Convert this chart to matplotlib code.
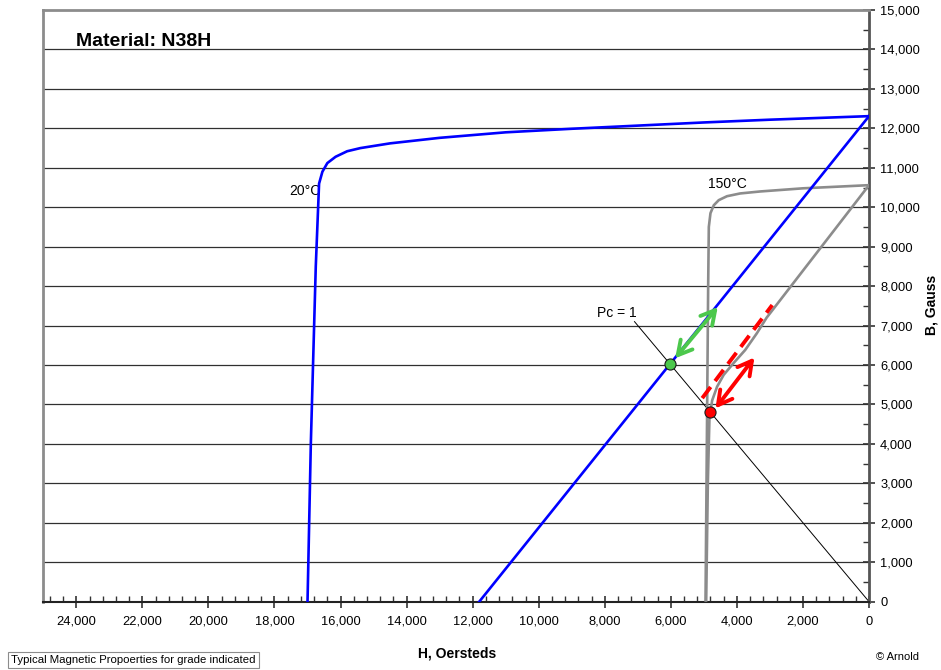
import numpy as np
import matplotlib
matplotlib.use("Agg")
import matplotlib.pyplot as plt
from matplotlib.ticker import MultipleLocator, FuncFormatter

plt.rcParams['font.family'] = ['Liberation Sans', 'DejaVu Sans']

# demagnetization curve, 20 C
h_20 = [17000, 16900, 16750, 16650, 16550, 16400, 16150, 15800, 15400, 14500, 13000,
        11000, 9000, 7000, 5000, 3000, 1000, 0]
b_20 = [0, 4000, 8500, 10600, 10900, 11120, 11280, 11420, 11500, 11620, 11760,
        11900, 11990, 12070, 12150, 12220, 12280, 12310]

# demagnetization curve, 150 C
h_150 = [4950, 4900, 4870, 4850, 4800, 4700, 4550, 4300, 3900, 3300, 2000, 0]
b_150 = [0, 5000, 8000, 9500, 9850, 10050, 10180, 10280, 10350, 10400, 10480, 10560]

# load line at 20 C
h_load20 = [0, 11800]
b_load20 = [12310, 0]

# recoil / load curve at 150 C
h_rec150 = [4930, 4880, 4830, 4800, 4750, 4600, 4400, 4100, 3750, 3400, 3100, 0]
b_rec150 = [0, 3000, 4700, 4810, 5100, 5450, 5750, 6050, 6380, 6800, 7200, 10560]

# red dashed extension
h_dash = [5050, 2930]
b_dash = [5160, 7520]

# Pc = 1 line
h_pc = [0, 7100]
b_pc = [0, 7100]

# operating points
green_pt = (6020, 6030)
red_pt = (4800, 4810)

# arrows (tail, head)
green_arrow = [(5870, 6170), (4580, 7470)]
red_arrow = [(4650, 4900), (3470, 6190)]

fig = plt.figure(figsize=(9.41, 6.70), dpi=100)
ax = fig.add_axes([0.046, 0.102, 0.8775, 0.883])

for yv in range(1000, 15000, 1000):
    ax.axhline(yv, color='#303030', lw=0.9, zorder=1)

ax.plot(h_pc, b_pc, color='black', lw=0.7, zorder=2)
ax.plot(h_150, b_150, color='#8c8c8c', lw=1.9, zorder=3, solid_capstyle='butt')
ax.plot(h_rec150, b_rec150, color='#8c8c8c', lw=1.9, zorder=3, solid_capstyle='butt')
ax.plot(h_20, b_20, color='#0000ff', lw=1.9, zorder=4)
ax.plot(h_load20, b_load20, color='#0000ff', lw=1.9, zorder=4)
ax.plot(h_dash, b_dash, color='#ff0000', lw=2.8, dashes=(3.6, 1.9), zorder=5,
        dash_capstyle='butt')

arrow_style = '<->,head_length=1.0,head_width=0.55'
ax.annotate('', xy=green_arrow[1], xytext=green_arrow[0],
            arrowprops=dict(arrowstyle=arrow_style, color='#4cc84c', lw=2.8,
                            shrinkA=0, shrinkB=0), zorder=6)
ax.annotate('', xy=red_arrow[1], xytext=red_arrow[0],
            arrowprops=dict(arrowstyle=arrow_style, color='#ff0000', lw=2.8,
                            shrinkA=0, shrinkB=0), zorder=6)

ax.plot([green_pt[0]], [green_pt[1]], 'o', ms=8, mfc='#4cc84c', mec='#1a1a1a', mew=0.8, zorder=7)
ax.plot([red_pt[0]], [red_pt[1]], 'o', ms=8, mfc='#ff0000', mec='#1a1a1a', mew=0.8, zorder=7)

ax.text(16600, 10420, '20°C', ha='right', va='center', fontsize=10)
ax.text(4300, 10580, '150°C', ha='center', va='center', fontsize=10)
ax.text(7050, 7330, 'Pc = 1', ha='right', va='center', fontsize=10)
ax.text(24000, 14200, 'Material: N38H', ha='left', va='center', fontsize=14, fontweight='bold')

ax.set_xlim(25000, 0)
ax.set_ylim(0, 15000)

ax.xaxis.set_major_locator(MultipleLocator(2000))
ax.xaxis.set_minor_locator(MultipleLocator(400))
ax.yaxis.set_major_locator(MultipleLocator(1000))
ax.yaxis.set_minor_locator(MultipleLocator(500))
fmt = FuncFormatter(lambda v, p: f'{int(round(v)):,}')
ax.xaxis.set_major_formatter(fmt)
ax.yaxis.set_major_formatter(fmt)

ax.yaxis.tick_right()
ax.tick_params(axis='both', which='major', direction='inout', length=8, width=1.2,
               color='#333333', labelsize=9.3)
ax.tick_params(axis='both', which='minor', direction='in', length=4, width=1.0, color='#333333')
ax.tick_params(axis='x', which='major', pad=6)
ax.tick_params(axis='y', which='major', pad=4)

ax.spines['top'].set_color('#8c8c8c')
ax.spines['top'].set_linewidth(2)
ax.spines['left'].set_color('#8c8c8c')
ax.spines['left'].set_linewidth(2)
ax.spines['right'].set_color('#555555')
ax.spines['right'].set_linewidth(2)
ax.spines['bottom'].set_color('#222222')
ax.spines['bottom'].set_linewidth(1.5)

fig.text(457 / 941, 1 - 653 / 670, 'H, Oersteds', ha='center', va='center',
         fontsize=10, fontweight='bold')
fig.text(931 / 941, 1 - 305 / 670, 'B, Gauss', ha='center', va='center',
         fontsize=10, fontweight='bold', rotation=90)
fig.text(11 / 941, 1 - 660 / 670, 'Typical Magnetic Propoerties for grade indicated',
         ha='left', va='center', fontsize=8.2,
         bbox=dict(boxstyle='square,pad=0.3', fc='white', ec='#8c8c8c', lw=0.8))
fig.text(897 / 941, 1 - 657 / 670, '© Arnold', ha='center', va='center', fontsize=8)

fig.savefig('out.png', dpi=100)
